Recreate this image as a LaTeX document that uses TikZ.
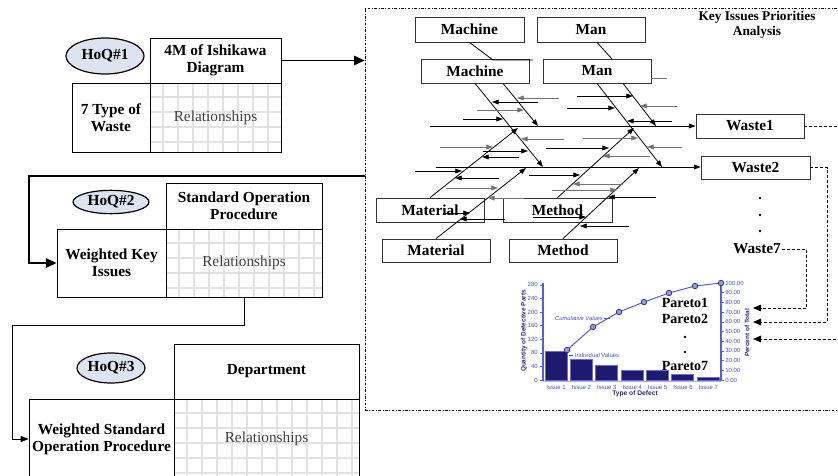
\documentclass[tikz,border=0pt]{standalone}
\usepackage{fontspec}
\setmainfont{Liberation Serif}
\newfontfamily\chartfont{Liberation Sans}
\usepackage{xcolor}
\usetikzlibrary{arrows.meta,shapes.geometric,fit,calc}

\definecolor{hoqfill}{RGB}{220,228,242}
\definecolor{relgray}{RGB}{226,226,226}
\definecolor{barnavy}{RGB}{30,26,112}
\definecolor{baredge}{RGB}{110,110,200}
\definecolor{axisblue}{RGB}{85,95,215}
\definecolor{chartlabel}{RGB}{70,80,175}
\definecolor{chartnavy}{RGB}{40,40,120}

% light grid behind a relationships matrix: x1,y1,x2,y2
\newcommand{\relgrid}[4]{%
  \begin{scope}
    \clip (#1,#2) rectangle (#3,#4);
    \foreach \k in {0,...,12} {
      \draw[relline] ({#1+13+15*\k},#2) -- ({#1+13+15*\k},#4);
      \draw[relline] (#1,{#2+14+15*\k}) -- (#3,{#2+14+15*\k});
    }
  \end{scope}}

\begin{document}
\begin{tikzpicture}[x=0.75pt,y=0.75pt,yscale=-1,xscale=1,
  box/.style={draw, line width=0.6pt, inner sep=0pt, align=center, font=\bfseries\fontsize{11.5}{13}\selectfont},
  fishbox/.style={box, draw=black!80, minimum width=81pt, minimum height=18pt},
  relbox/.style={box, font=\fontsize{11.5}{13}\selectfont, text=black!75},
  hoq/.style={ellipse, draw, line width=0.9pt, fill=hoqfill, inner sep=0pt, font=\bfseries\fontsize{11.5}{13}\selectfont},
  relline/.style={draw=relgray, line width=1.1pt},
  flow/.style={line width=1.4pt, -{Triangle[length=8pt,width=7pt]}},
  thinflow/.style={line width=0.7pt, -{Triangle[length=6pt,width=4.5pt]}},
  bone/.style={line width=0.6pt, -{Triangle[length=5pt,width=3.6pt]}},
  subk/.style={bone},
  subg/.style={bone, draw=black!55},
  wasteflow/.style={dash pattern=on 2.2pt off 1.5pt, line width=0.6pt, -{Triangle[length=6pt,width=5pt]}},
  pareto/.style={inner sep=0pt, font=\bfseries\fontsize{10.5}{12}\selectfont},
  chartlbl/.style={text=chartlabel, inner sep=0pt, font=\chartfont\fontsize{4.5}{5}\selectfont},
]
\useasboundingbox (0,0) rectangle (838,475);
\clip (0,0) rectangle (838,475);

% HoQ#1
\relgrid{150}{83}{281}{152}
\node[hoq, minimum width=58.5pt, minimum height=27pt] (hoq1) at (105,56) {HoQ\#1};
\node[box, minimum width=98.25pt, minimum height=33.75pt] (hoq1top) at (215.5,60.5) {4M of Ishikawa\\Diagram};
\node[box, minimum width=58.5pt, minimum height=51.75pt] (hoq1left) at (111,117.5) {7 Type of\\Waste};
\node[relbox, minimum width=98.25pt, minimum height=51.75pt] (hoq1rel) at (215.5,117.5) {Relationships};

% HoQ#2
\relgrid{166}{229}{322}{297}
\node[hoq, minimum width=57pt, minimum height=17.5pt] (hoq2) at (111,202) {HoQ\#2};
\node[box, minimum width=117pt, minimum height=34.5pt] (hoq2top) at (244,206) {Standard Operation\\Procedure};
\node[box, minimum width=81.75pt, minimum height=51pt] (hoq2left) at (111.5,263) {Weighted Key\\Issues};
\node[relbox, minimum width=117pt, minimum height=51pt] (hoq2rel) at (244,263) {Relationships};

% HoQ#3
\relgrid{174}{399}{359}{479}
\node[hoq, minimum width=51pt, minimum height=22.5pt] (hoq3) at (111,368) {HoQ\#3};
\node[box, minimum width=138.75pt, minimum height=41.25pt] (hoq3top) at (266.5,371.5) {Department};
\node[box, minimum width=108.75pt, minimum height=60pt] (hoq3left) at (101.5,439) {Weighted Standard\\Operation Procedure};
\node[relbox, minimum width=138.75pt, minimum height=60pt] (hoq3rel) at (266.5,439) {Relationships};

% Key issues frame
\node[draw, dash pattern=on 2pt off 1.2pt on 0.6pt off 1.2pt, line width=0.5pt, inner sep=0pt, fit={(365,8) (850,410)}] (kip) {};
\node[align=center, font=\bfseries\fontsize{10}{11.3}\selectfont] (kiptitle) at (757,25) {Key Issues Priorities\\Analysis};

% flow between the houses
\coordinate (kout) at (365,176);
\draw[flow] (hoq1top.east) -- (hoq1top.east -| kip.west);
\draw[flow] (kout) -- ++(-336,0) |- (hoq2left.west);
\draw[thinflow] (hoq2rel.south) -- ++(0,28) -- ++(-232,0) |- (hoq3left.west);

% Ishikawa boxes
\node[fishbox, minimum width=81.75pt, minimum height=18.75pt] (mach1) at (469.5,29.5) {Machine};
\node[fishbox, minimum height=18.75pt] (man1) at (591,29.5) {Man};
\node[fishbox] (mach2) at (475,71) {Machine};
\node[fishbox] (man2) at (597,71) {Man};
\node[fishbox] (mat1) at (430,210) {Material};
\node[fishbox, minimum width=81.75pt] (meth1) at (557.5,210) {Method};
\node[fishbox, minimum height=17.25pt] (mat2) at (436,250.5) {Material};
\node[fishbox, minimum height=17.25pt] (meth2) at (563,250.5) {Method};
\node[fishbox] (waste1) at (750,126) {Waste1};
\node[fishbox, minimum width=81.75pt, minimum height=17.25pt] (waste2) at (755.5,167.5) {Waste2};
\node[inner sep=1pt, font=\bfseries\fontsize{11.5}{13}\selectfont] (waste7) at (757,249) {Waste7};
\foreach \yy in {198,215,231}
  \fill (760,\yy) circle (1.4);

% spines
\coordinate (tail1) at (430,126);
\coordinate (tail2) at (436,167);
\draw[bone] (tail1) -- (tail1 -| waste1.west);
\draw[bone] (tail2) -- (tail2 -| waste2.west);

% bones
\coordinate (b1) at (543,167);
\coordinate (b2) at (538,126);
\coordinate (b3) at (662,167);
\coordinate (b4) at (656,126);
\coordinate (b5) at (518,128);
\coordinate (b6) at (526,168);
\coordinate (b7) at (634,128);
\coordinate (b8) at (639,168);
\draw[bone] (mach2.south) -- (b1);
\draw[bone] ($(mach2.south)+(28,0)$) -- (b2);
\draw[bone] (man2.south) -- (b3);
\draw[bone] ($(man2.south)+(26,0)$) -- (b4);
\draw[bone] (mat1.north) -- (b5);
\draw[bone] (mat2.north) -- (b6);
\draw[bone] (meth1.north) -- (b7);
\draw[bone] (meth2.north) -- (b8);
\draw[line width=0.6pt] (mach1.south) -- (493,60) -- (533,60);
\draw[line width=0.6pt] ($(man1.south)+(6,0)$) -- (612,59);
\draw[line width=0.6pt, black!55] (651,78) -- (667,78);

% sub causes
\foreach \xa/\xb/\yy in {538/492/102, 463/503/119, 483/528/151, 519/482/157, 415/462/171, 499/455/178, 443/470/213, 505/460/219, 577/633/96, 567/615/108, 672/627/121, 546/609/148, 529/580/175, 656/608/197, 533/586/217, 629/580/226}
  \draw[subk] (\xa,\yy) -- (\xb,\yy);
\foreach \xa/\xb/\yy in {559/517/98, 477/524/110, 564/521/139, 440/493/147, 446/498/188, 524/488/198, 677/640/106, 583/638/138, 682/647/147, 650/603/156, 623/573/184, 552/617/190}
  \draw[subg] (\xa,\yy) -- (\xb,\yy);

% Pareto chart
\foreach \xl/\yt in {545/351, 570/359, 595/365, 621/370, 646/370, 671/374, 697/377}
  \draw[draw=baredge, fill=barnavy, line width=0.4pt] (\xl,380) rectangle ++(22,\yt-380);
\draw[axisblue!50, line width=0.5pt] (543,381) -- (721,381);
\draw[axisblue, line width=1pt] (543,283) -- (543,381);
\draw[axisblue, line width=1pt] (721,283) -- (721,381);
\foreach \v [count=\i from 0] in {0,40,80,120,160,200,240,280} {
  \draw[axisblue, line width=0.4pt] (540,{380-\i*13.6}) -- (543,{380-\i*13.6});
  \node[chartlbl, anchor=east] at (538,{380-\i*13.6}) {\v};
}
\foreach \v [count=\i from 0] in {0.00,10.00,20.00,30.00,40.00,50.00,60.00,70.00,80.00,90.00,100.00} {
  \draw[axisblue, line width=0.4pt] (721,{380-\i*9.7}) -- (724,{380-\i*9.7});
  \node[chartlbl, anchor=west] at (725,{380-\i*9.7}) {\v};
}
\foreach \i in {1,...,7}
  \node[chartlbl] at ({556+(\i-1)*25.4},387) {Issue \i};
\node[chartlbl, text=chartnavy, rotate=90, font=\chartfont\bfseries\fontsize{4.8}{5}\selectfont] at (524,331) {Quantity of Defective Parts};
\node[chartlbl, text=chartnavy, rotate=90, font=\chartfont\bfseries\fontsize{4.8}{5}\selectfont] at (747,333) {Percent of Total};
\node[chartlbl, text=chartnavy, font=\chartfont\bfseries\fontsize{5}{6}\selectfont] at (635,394) {Type of Defect};
\node[chartlbl, font=\chartfont\itshape\fontsize{4.3}{5}\selectfont] at (579,318) {Cumulative Values};
\draw[chartlabel, line width=0.4pt] (604,318) -- (610,318);
\node[chartlbl, font=\chartfont\fontsize{4.4}{5}\selectfont] at (597,355) {Individual Values};
\draw[chartlabel, line width=0.4pt] (569,355) -- (573,355);
\draw[axisblue!90!black, line width=0.7pt] (567,350) -- (593,327) -- (619,312) -- (644,302) -- (669,293) -- (695,286) -- (721,283);
\foreach \px/\py in {567/350, 593/327, 619/312, 644/302, 669/293, 695/286, 721/283}
  \draw[chartnavy, fill=baredge!70, line width=0.5pt] (\px,\py) circle (2.8);

% Pareto labels
\node[pareto] (par1) at (685,303) {Pareto1};
\node[pareto] (par2) at (685,319) {Pareto2};
\fill (685,337) circle (1.4);
\fill (685,352) circle (1.4);
\node[pareto] (par7) at (685,366) {Pareto7};

% waste to pareto
\coordinate (in1) at (753,308);
\coordinate (in2) at (753,322);
\coordinate (in3) at (753,339);
\draw[wasteflow] (waste7.east) -- ++(24,0) |- (in1);
\draw[wasteflow] (waste2.east) -- ++(17,0) |- (in2);
\draw[wasteflow] (waste1.east) -- ++(45,0) |- (in3);

\end{tikzpicture}
\end{document}
